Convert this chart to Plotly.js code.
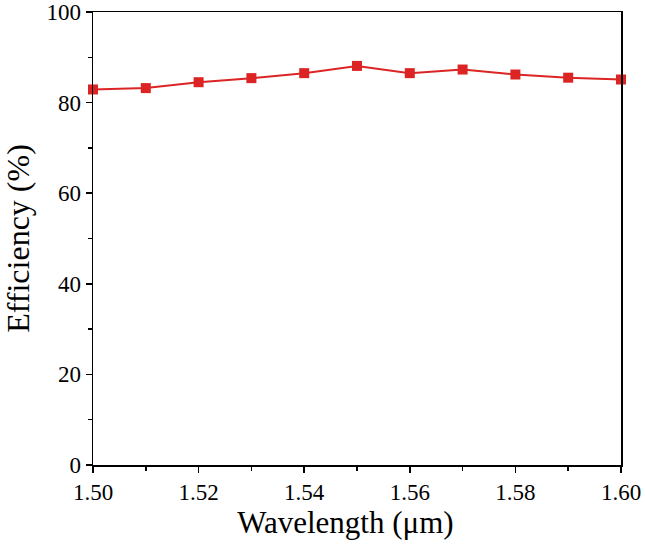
<!DOCTYPE html>
<html><head><meta charset="utf-8">
<script src="https://cdn.plot.ly/plotly-3.0.1.min.js"></script>
<style>html,body{margin:0;padding:0;background:#fff}#c{width:645px;height:547px}</style>
</head><body><div id="c"></div>
<script>
var wavelength = [1.50, 1.51, 1.52, 1.53, 1.54, 1.55, 1.56, 1.57, 1.58, 1.59, 1.60];
var efficiency = [82.9, 83.2, 84.5, 85.4, 86.5, 88.1, 86.5, 87.3, 86.2, 85.5, 85.1];
var xTicks = [1.50, 1.52, 1.54, 1.56, 1.58, 1.60];
var xTickLabels = ['1.50', '1.52', '1.54', '1.56', '1.58', '1.60'];
var yTicks = [0, 20, 40, 60, 80, 100];

var red = '#dc2424';
var fontFam = '"Liberation Serif", "Times New Roman", serif';
var trace = {
  x: wavelength, y: efficiency, type: 'scatter', mode: 'lines+markers',
  line: {color: red, width: 2},
  marker: {symbol: 'square', size: 10, color: red},
  cliponaxis: false
};
var axCommon = {
  showline: true, linecolor: '#000', linewidth: 1.5, mirror: true,
  ticks: 'outside', ticklen: 6, tickwidth: 1.5, tickcolor: '#000',
  showgrid: false, zeroline: false,
  tickfont: {family: fontFam, size: 23, color: '#000'}
};
var layout = {
  width: 645, height: 547,
  margin: {l: 93, r: 24, t: 12, b: 82},
  paper_bgcolor: '#fff', plot_bgcolor: '#fff',
  showlegend: false,
  xaxis: Object.assign({}, axCommon, {
    range: [1.50, 1.60], tickvals: xTicks, ticktext: xTickLabels,
    minor: {ticks: 'outside', ticklen: 4, tickwidth: 1.5, tickcolor: '#000', dtick: 0.01, tick0: 1.5},
    title: {text: 'Wavelength (μm)&nbsp;&nbsp;&nbsp;', font: {family: fontFam, size: 31, color: '#000'}, standoff: 7}
  }),
  yaxis: Object.assign({}, axCommon, {
    range: [0, 100], tickvals: yTicks,
    minor: {ticks: 'outside', ticklen: 4, tickwidth: 1.5, tickcolor: '#000', dtick: 10, tick0: 0},
    title: {text: 'Efficiency (%)', font: {family: fontFam, size: 32, color: '#000'}, standoff: 16}
  })
};
Plotly.newPlot('c', [trace], layout, {displayModeBar: false, staticPlot: true});
</script></body></html>
